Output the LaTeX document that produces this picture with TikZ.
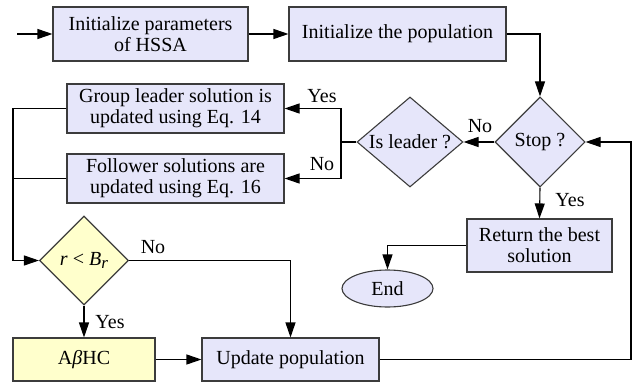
\documentclass[tikz,border=0pt]{standalone}
\usepackage{fontspec}
\setmainfont{Liberation Serif}
\usetikzlibrary{shapes.geometric,arrows.meta}
\definecolor{boxfill}{RGB}{230,230,250}
\definecolor{yelfill}{RGB}{255,255,204}
\definecolor{edge}{RGB}{60,60,60}
\begin{document}
\begin{tikzpicture}[x=1pt,y=-1pt,
  font=\fontsize{20}{21}\selectfont,
  proc/.style={rectangle, draw=edge, line width=1.1pt, fill=boxfill, align=center, inner sep=0pt},
  yproc/.style={proc, fill=yelfill},
  dia/.style={diamond, draw=edge, line width=1.1pt, fill=boxfill, inner sep=0pt},
  ydia/.style={dia, fill=yelfill},
  term/.style={ellipse, draw=edge, line width=1.1pt, fill=boxfill, inner sep=0pt},
  flow/.style={line width=1.1pt, -{Triangle[length=15pt,width=10pt]}},
  plain/.style={line width=1.1pt},
  lbl/.style={inner sep=0pt}]
\useasboundingbox (0,0) rectangle (634,385);

% process boxes
\node[proc, minimum width=195pt, minimum height=54pt] (par) at (150.5,34) {Initialize parameters\\of HSSA};
\node[proc, minimum width=217pt, minimum height=54pt] (pop) at (397.5,34) {Initialize the population};
\node[proc, minimum width=217pt, minimum height=49pt] (lead) at (175.5,108.5) {Group leader solution is\\updated using Eq. 14};
\node[proc, minimum width=217pt, minimum height=49pt] (fol) at (175.5,178.5) {Follower solutions are\\updated using Eq. 16};
\node[proc, minimum width=145pt, minimum height=53pt] (ret) at (539.5,245.5) {Return the best\\solution};
\node[yproc, minimum width=142pt, minimum height=43pt] (abhc) at (84,359.5) {A\textit{β}HC};
\node[proc, minimum width=177pt, minimum height=43pt] (upd) at (290.5,359.5) {Update population};
\node[term, minimum width=91pt, minimum height=37pt] (end) at (387.5,288.5) {End};

% decisions
\node[dia, minimum width=90pt, minimum height=90pt, label=center:{Stop ?}] (stop) at (540,142) {};
\node[dia, minimum width=106pt, minimum height=90pt, label=center:{Is leader ?}] (isl) at (410,142) {};
\node[ydia, minimum width=89pt, minimum height=89pt,
  label=center:{\textit{r} < \textit{B}\raisebox{-0.35ex}{\fontsize{17}{17}\selectfont\textit{r}}}] (rb) at (84,260.5) {};

% junction points
\coordinate (start) at (17,34);
\coordinate (split) at (341,142);
\coordinate (rail) at (13,108.5);
\coordinate (back) at (631,359.5);

% connectors
\draw[flow] (start) -- (par.west);
\draw[flow] (par.east) -- (pop.west);
\draw[flow] (pop.east) -| (stop.north);
\draw[flow] (stop.west) -- (isl.east);
\draw[plain] (isl.west) -- (split);
\draw[flow] (split) |- (lead.east);
\draw[flow] (split) |- (fol.east);
\draw[plain] (lead.west) -- (rail);
\draw[plain] (fol.west) -- (rail |- fol.west);
\draw[flow] (rail) |- (rb.west);
\draw[flow] (rb.east) -| (upd.north);
\draw[flow] (rb.south) -- (abhc.north);
\draw[flow] (abhc.east) -- (upd.west);
\draw[plain] (upd.east) -- (back);
\draw[flow] (back) |- (stop.east);
\draw[flow] (stop.south) -- (ret.north);
\draw[flow] (ret.west) -| (end.north);

% branch labels
\node[lbl] (l1) at (322,96) {Yes};
\node[lbl] (l2) at (322,164) {No};
\node[lbl] (l3) at (480,126) {No};
\node[lbl] (l4) at (570,200) {Yes};
\node[lbl] (l5) at (153,247) {No};
\node[lbl] (l6) at (110,322) {Yes};
\end{tikzpicture}
\end{document}
